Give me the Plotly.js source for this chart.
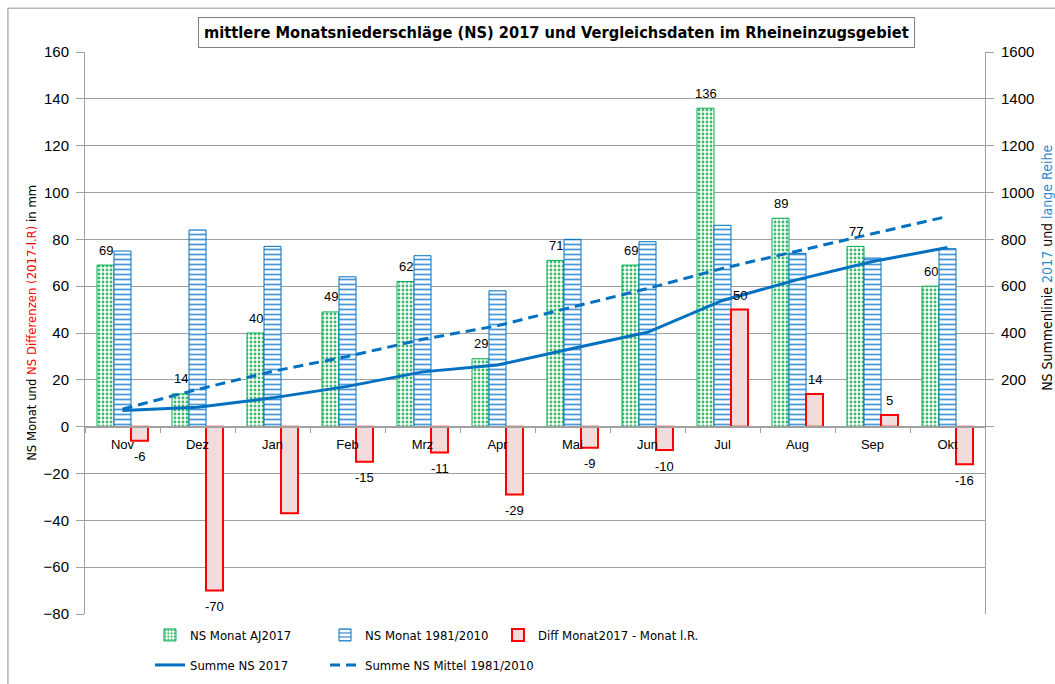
<!DOCTYPE html>
<html>
<head>
<meta charset="utf-8">
<script src="https://cdn.plot.ly/plotly-3.0.1.min.js"></script>
<style>html,body{margin:0;padding:0;background:#fff;}#chart{width:1055px;height:684px;}</style>
</head>
<body>
<div id="chart"></div>
<script>
// ---- data ----
var months = ["Nov","Dez","Jan","Feb","Mrz","Apr","Mai","Jun","Jul","Aug","Sep","Okt"];
var ns2017 = [69, 14, 40, 49, 62, 29, 71, 69, 136, 89, 77, 60];
var nsMittel = [75, 84, 77, 64, 73, 58, 80, 79, 86, 74, 72, 76];
var nsDiff = [-6, -70, -37, -15, -11, -29, -9, -10, 50, 14, 5, -16];
var ns2017Labels = ["69","14","40","49","62","29","71","69","136","89","77","60"];
var nsDiffLabels = ["-6","-70","","-15","-11","-29","-9","-10","50","14","5","-16"];
var summe2017 = [69, 83, 123, 172, 234, 263, 334, 403, 539, 628, 705, 765];
var summeMittel = [75, 159, 236, 300, 373, 431, 511, 590, 676, 750, 822, 898];
var leftTicks = [-80, -60, -40, -20, 0, 20, 40, 60, 80, 100, 120, 140, 160];
var rightTicks = [0, 200, 400, 600, 800, 1000, 1200, 1400, 1600];
var rightTickText = ["", "200", "400", "600", "800", "1000", "1200", "1400", "1600"];

var COND = "DejaVu Sans Condensed, DejaVu Sans, sans-serif";
var REG = "Liberation Sans, Arial, sans-serif";
var GRID = "#a0a0a0";
var BLUE = "#0070c0";

var traces = [
  {type:"bar", name:"NS Monat AJ2017", x:months, y:ns2017, legend:"legend",
   marker:{color:"#ffffff", line:{color:"#00b050", width:1},
     pattern:{shape:".", fgcolor:"#39b86a", bgcolor:"#ffffff", size:4, solidity:0.4}},
   hoverinfo:"skip"},
  {type:"bar", name:"NS Monat 1981/2010", x:months, y:nsMittel, legend:"legend2",
   marker:{color:"#ffffff", line:{color:BLUE, width:1},
     pattern:{shape:"-", fgcolor:"#4a98da", bgcolor:"#ffffff", size:5, solidity:0.35}},
   hoverinfo:"skip"},
  {type:"bar", name:"Diff Monat2017 - Monat l.R.", x:months, y:nsDiff, legend:"legend3",
   marker:{color:"#f2dcdb", line:{color:"#ff0000", width:2}},
   hoverinfo:"skip"},
  {type:"scatter", mode:"lines", name:"Summe NS 2017", x:months, y:summe2017, yaxis:"y2", legend:"legend4",
   line:{color:BLUE, width:3}, hoverinfo:"skip"},
  {type:"scatter", mode:"lines", name:"Summe NS Mittel 1981/2010", x:months, y:summeMittel, yaxis:"y2", legend:"legend5",
   line:{color:BLUE, width:3, dash:"10px,6px"}, hoverinfo:"skip"}
];

var yMin = -80, yMax = 160;
var annotations = [];
for (var i = 0; i < months.length; i++) {
  if (ns2017Labels[i]) annotations.push({x:months[i], y:ns2017[i], xref:"x", yref:"y", text:ns2017Labels[i],
    showarrow:false, xshift:-17, yshift:15, font:{family:REG, size:13, color:"#000"}});
  if (nsDiffLabels[i]) annotations.push({x:months[i], y:nsDiff[i], xref:"x", yref:"y", text:nsDiffLabels[i],
    showarrow:false, xshift:17, yshift:(nsDiff[i] >= 0 ? 14 : -16), font:{family:REG, size:13, color:"#000"}});
}
annotations.push({xref:"paper", yref:"paper", x:0.5244, y:1.034, xanchor:"center", yanchor:"middle",
  text:"<b>mittlere Monatsniederschläge (NS) 2017 und Vergleichsdaten im Rheineinzugsgebiet</b>",
  showarrow:false, font:{family:COND, size:16.3, color:"#000"}, bordercolor:"#808080", borderwidth:1, borderpad:5, bgcolor:"#fff"});
annotations.push({xref:"paper", yref:"paper", x:-0.0589, y:0.518, xanchor:"center", yanchor:"middle", textangle:-90,
  text:"NS Monat und <span style='color:#ff0000'>NS Differenzen (2017-l.R)</span> in mm",
  showarrow:false, font:{family:COND, size:13, color:"#000"}});
annotations.push({xref:"paper", yref:"paper", x:1.0689, y:0.616, xanchor:"center", yanchor:"middle", textangle:-90,
  text:"NS Summenlinie <span style='color:#2e86d0'>2017</span> und <span style='color:#2e86d0'>lange Reihe</span>",
  showarrow:false, font:{family:COND, size:14, color:"#000"}});

function legendAt(x, y) {
  return {orientation:"h", x:x, y:y, xanchor:"left", yanchor:"middle",
    font:{family:COND, size:13, color:"#000"}, bgcolor:"rgba(0,0,0,0)"};
}
var row1 = (614 - 635) / 562, row2 = (614 - 665) / 562;

var layout = {
  width:1055, height:684,
  margin:{l:85, r:70, t:52, b:70, autoexpand:false},
  paper_bgcolor:"#fff", plot_bgcolor:"#fff",
  barmode:"group", bargap:0.32, bargroupgap:0,
  showlegend:true,
  font:{family:REG, color:"#000"},
  xaxis:{type:"category", anchor:"free", position:(0 - yMin) / (yMax - yMin),
    showline:true, linecolor:GRID, linewidth:2, showgrid:false, zeroline:false,
    ticks:"outside", tickson:"boundaries", ticklen:5, tickcolor:GRID, ticklabelstandoff:6,
    tickfont:{family:REG, size:13, color:"#000"}, fixedrange:true},
  yaxis:{range:[yMin, yMax], tickvals:leftTicks, showgrid:true, gridcolor:GRID, gridwidth:1,
    showline:true, linecolor:GRID, linewidth:1, zeroline:false,
    ticks:"outside", ticklen:8, tickcolor:GRID, ticklabelstandoff:4,
    tickfont:{family:REG, size:15, color:"#000"}, fixedrange:true},
  yaxis2:{range:[-800, 1600], tickvals:rightTicks, ticktext:rightTickText, overlaying:"y", side:"right", anchor:"x",
    showgrid:false, zeroline:false, showline:true, linecolor:GRID, linewidth:1,
    ticks:"outside", ticklen:8, tickcolor:GRID, ticklabelstandoff:4,
    tickfont:{family:REG, size:15, color:"#000"}, fixedrange:true},
  legend:legendAt(0.0722, row1),
  legend2:legendAt(0.2667, row1),
  legend3:legendAt(0.4589, row1),
  legend4:legendAt(0.0722, row2),
  legend5:legendAt(0.2667, row2),
  annotations:annotations,
  shapes:[{type:"rect", xref:"paper", yref:"paper", x0:-0.0856, x1:1.2, y0:-0.3, y1:1.078,
    line:{color:"#909090", width:1}, fillcolor:"rgba(0,0,0,0)", layer:"below"}]
};

Plotly.newPlot("chart", traces, layout, {displayModeBar:false, staticPlot:true});
</script>
</body>
</html>
